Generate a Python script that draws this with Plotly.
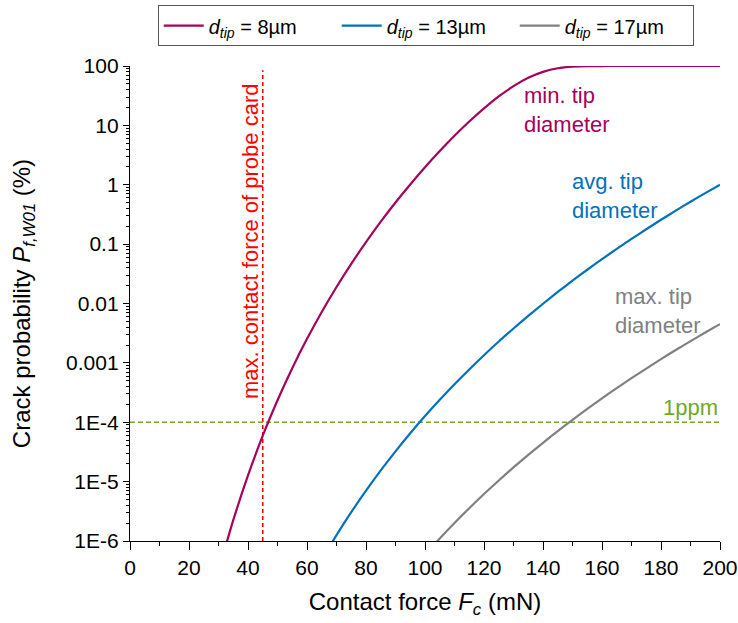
import plotly.graph_objects as go

# Contact force (mN) and crack probability (%) for each tip diameter
force_8 = [32, 35, 40, 45, 50, 55, 60, 65, 70, 75, 80, 85, 90, 95, 100, 105, 110,
           115, 120, 125, 130, 135, 140, 145, 150, 155, 160, 165, 170, 180, 190, 200]
prob_8 = [6.96e-7, 2.24e-6, 1.27e-5, 5.93e-5, 2.35e-4, 8.14e-4, 2.54e-3, 7.21e-3,
          0.0190, 0.0466, 0.108, 0.239, 0.503, 1.01, 1.97, 3.69, 6.68, 11.6, 19.3,
          30.7, 45.7, 63.2, 79.5, 91.5, 97.5, 99.4, 99.9, 100, 100, 100, 100, 100]

force_13 = [68, 70, 75, 80, 85, 90, 95, 100, 105, 110, 115, 120, 125, 130, 135,
            140, 145, 150, 155, 160, 165, 170, 175, 180, 185, 190, 195, 200]
prob_13 = [8.61e-7, 1.253e-6, 3.06e-6, 7.06e-6, 1.549e-5, 3.24e-5, 6.53e-5,
           1.271e-4, 2.39e-4, 4.37e-4, 7.76e-4, 1.346e-3, 2.29e-3, 3.79e-3,
           6.18e-3, 9.91e-3, 0.01563, 0.02421, 0.0370, 0.0558, 0.0832, 0.1225,
           0.1782, 0.257, 0.366, 0.518, 0.723, 1.0]

force_17 = [104, 105, 110, 115, 120, 125, 130, 135, 140, 145, 150, 155, 160, 165,
            170, 175, 180, 185, 190, 195, 200]
prob_17 = [9.75e-7, 1.104e-6, 2.01e-6, 3.57e-6, 6.18e-6, 1.047e-5, 1.734e-5,
           2.82e-5, 4.51e-5, 7.11e-5, 1.10e-4, 1.68e-4, 2.53e-4, 3.77e-4, 5.52e-4,
           8.02e-4, 1.156e-3, 1.648e-3, 2.32e-3, 3.24e-3, 4.50e-3]

max_contact_force = 45      # mN, probe card limit
one_ppm = 1e-4              # % (1 ppm)

y_tickvals = [100, 10, 1, 0.1, 0.01, 0.001, 1e-4, 1e-5, 1e-6]
y_ticktext = ["100", "10", "1", "0.1", "0.01", "0.001", "1E-4", "1E-5", "1E-6"]
x_tickvals = list(range(0, 201, 20))

PURPLE = "#A5005C"
BLUE = "#0072BB"
GRAY = "#808080"
RED = "#FF0000"
GREEN = "#6FAA1F"
FONT = "Liberation Sans, Arial, sans-serif"

fig = go.Figure()

fig.add_trace(go.Scatter(
    x=[max_contact_force, max_contact_force], y=[1e-6, 85], mode="lines",
    line=dict(color=RED, width=1.6, dash="4px,3px"), showlegend=False, hoverinfo="skip"))
fig.add_trace(go.Scatter(
    x=[0, 200], y=[one_ppm, one_ppm], mode="lines",
    line=dict(color=GREEN, width=1.6, dash="5px,3px"), showlegend=False, hoverinfo="skip"))

for fx, py, col, name in [
    (force_8, prob_8, PURPLE, "<i>d</i><sub><i>tip</i></sub> = 8µm"),
    (force_13, prob_13, BLUE, "<i>d</i><sub><i>tip</i></sub> = 13µm"),
    (force_17, prob_17, GRAY, "<i>d</i><sub><i>tip</i></sub> = 17µm"),
]:
    fig.add_trace(go.Scatter(x=fx, y=py, mode="lines", name=name,
                             line=dict(color=col, width=2.2, shape="spline", smoothing=0.6)))

annotations = [
    dict(x=40.9, y=-0.954, text="max. contact force of probe card", textangle=-90,
         font=dict(color=RED, size=22), xanchor="center", yanchor="middle"),
    dict(x=133.0, y=1.262, text="min. tip<br>diameter", align="left",
         font=dict(color=PURPLE, size=22), xanchor="left", yanchor="middle"),
    dict(x=149.3, y=-0.195, text="avg. tip<br>diameter", align="left",
         font=dict(color=BLUE, size=22), xanchor="left", yanchor="middle"),
    dict(x=163.7, y=-2.125, text="max. tip<br>diameter", align="left",
         font=dict(color=GRAY, size=22), xanchor="left", yanchor="middle"),
    dict(x=200, y=-4, text="1ppm", font=dict(color=GREEN, size=22),
         xanchor="right", yanchor="bottom", yshift=0),
]
for a in annotations:
    a.update(xref="x", yref="y", showarrow=False)

fig.update_layout(
    width=738, height=623,
    margin=dict(l=130, r=18, t=66, b=82, autoexpand=False),
    paper_bgcolor="white", plot_bgcolor="white",
    font=dict(family=FONT, size=21, color="black"),
    annotations=annotations,
    legend=dict(orientation="h", x=0.047, y=1.128, xanchor="left", yanchor="top",
                bordercolor="#555555", borderwidth=1, bgcolor="white",
                font=dict(size=20), entrywidth=123, itemwidth=40,
                tracegroupgap=0),
    showlegend=True,
)

fig.update_xaxes(
    range=[0, 200], tickvals=x_tickvals, showgrid=False, zeroline=False,
    automargin=False,
    showline=True, linecolor="black", linewidth=1.3,
    ticks="outside", ticklen=8, tickwidth=1.3, tickcolor="black",
    minor=dict(ticks="outside", ticklen=4, dtick=10, tickwidth=1.3, tickcolor="black", showgrid=False),
    title=dict(text="Contact force <i>F</i><sub><i>c</i></sub> (mN)", font=dict(size=24), standoff=14),
    tickfont=dict(size=21),
)
fig.update_yaxes(
    type="log", range=[-6, 2], tickvals=y_tickvals, ticktext=y_ticktext,
    showgrid=False, zeroline=False, automargin=False,
    showline=True, linecolor="black", linewidth=1.3,
    ticks="outside", ticklen=6, tickwidth=1.3, tickcolor="black",
    minor=dict(ticks="outside", ticklen=3, dtick="D1", tickwidth=1, tickcolor="black", showgrid=False),
    title=dict(text="Crack probability <i>P</i><sub><i>f,W01</i></sub> (%)", font=dict(size=24), standoff=28),
    tickfont=dict(size=21),
)

fig.write_html("out.html")
